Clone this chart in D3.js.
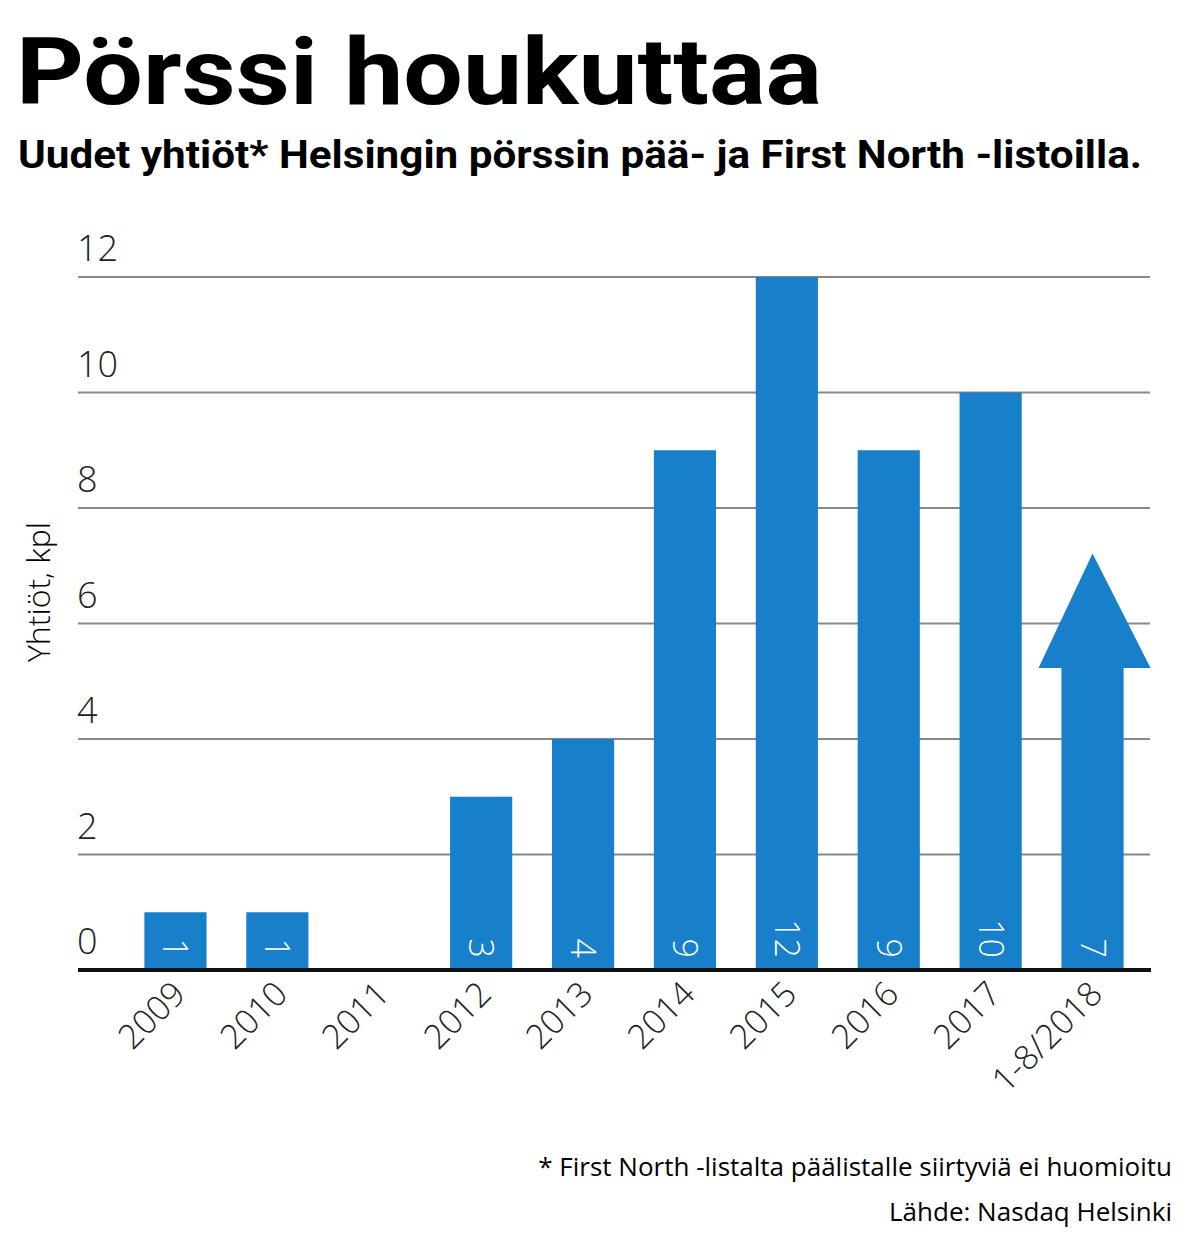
<!DOCTYPE html>
<html><head><meta charset="utf-8">
<script src="https://cdn.jsdelivr.net/npm/d3@7"></script>
<style>body{margin:0;background:#fff}</style>
</head><body>
<script>
const categories=["2009","2010","2011","2012","2013","2014","2015","2016","2017","1-8/2018"];
const values=[1,1,0,3,4,9,12,9,10,7];
const yTicks=[0,2,4,6,8,10,12];
const W=1199,H=1247,blue="#187fca";
const svg=d3.select("body").append("svg").attr("width",W).attr("height",H);
const x=d3.scaleBand().domain(categories).range([124,1144]).paddingInner(0.39).paddingOuter(0.2);
const y=d3.scaleLinear().domain([0,12]).range([970,277]);
svg.append("text").attr("x",16).attr("y",104).text("Pörssi houkuttaa")
 .attr("font-family","Liberation Sans Narrow, Roboto").attr("font-weight","bold").attr("font-size",92)
 .attr("textLength",806).attr("lengthAdjust","spacingAndGlyphs");
svg.append("text").attr("x",18).attr("y",168).text("Uudet yhtiöt* Helsingin pörssin pää- ja First North -listoilla.")
 .attr("font-family","Roboto").attr("font-weight","bold").attr("font-size",38)
 .attr("textLength",1124).attr("lengthAdjust","spacingAndGlyphs");
const g=svg.append("g").attr("font-family","Open Sans, Lato");
yTicks.forEach(t=>{
 if(t>0) g.append("line").attr("x1",78).attr("x2",1150).attr("y1",y(t)).attr("y2",y(t)).attr("stroke","#888").attr("stroke-width",2);
 g.append("text").attr("x",77).attr("y",y(t)-16).text(t).attr("font-size",36).attr("font-weight",300).attr("fill","#222");
});
g.append("text").attr("transform","translate(50,592) rotate(-90)").attr("text-anchor","middle")
 .attr("font-size",32).attr("font-weight",300).text("Yhtiöt, kpl");
categories.forEach((c,i)=>{
 const v=values[i],bx=x(c),bw=x.bandwidth(),cx=bx+bw/2;
 if(i<categories.length-1){
  if(v>0) g.append("rect").attr("x",bx).attr("y",y(v)).attr("width",bw).attr("height",y(0)-y(v)).attr("fill",blue);
 } else {
  const base=y(v*0.747),tip=y(v*1.03);
  g.append("path").attr("fill",blue).attr("d",`M${bx},${y(0)}L${bx},${base}L${cx-54},${base}L${cx},${tip}L${cx+58},${base}L${bx+bw},${base}L${bx+bw},${y(0)}Z`);
 }
 if(v>0) g.append("text").attr("transform",`translate(${cx-12},${958}) rotate(90)`).attr("fill","#fff")
   .attr("font-size",34).attr("font-weight",300).attr("text-anchor","end").text(v);
 g.append("text").attr("transform",`translate(${cx+12},${996}) rotate(-45)`).attr("text-anchor","end")
  .attr("font-size",34).attr("font-weight",300).attr("fill","#222").text(c);
});
g.append("line").attr("x1",78).attr("x2",1151).attr("y1",y(0)).attr("y2",y(0)).attr("stroke","#111").attr("stroke-width",4);
g.append("text").attr("x",1172).attr("y",1176).attr("text-anchor","end").attr("font-size",26).text("* First North -listalta päälistalle siirtyviä ei huomioitu");
g.append("text").attr("x",1172).attr("y",1221).attr("text-anchor","end").attr("font-size",26).text("Lähde: Nasdaq Helsinki");
</script>
</body></html>
